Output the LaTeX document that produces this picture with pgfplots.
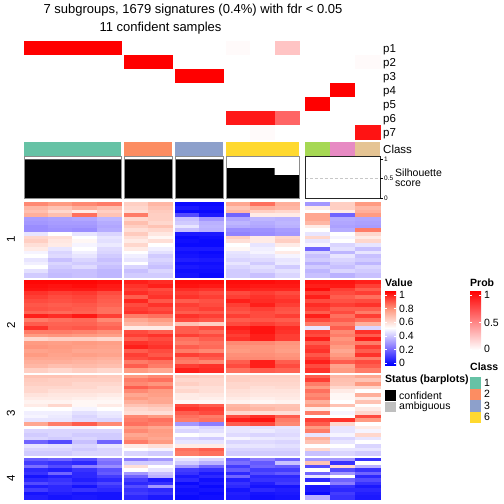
\documentclass[border=0pt]{standalone}
\usepackage{pgfplots}
\pgfplotsset{compat=1.18}
\usepackage{pgfplotstable}
\usepackage{fontspec}
\setmainfont{Liberation Sans}
\definecolor{cA}{RGB}{102,194,165}
\definecolor{cB}{RGB}{252,141,98}
\definecolor{cC}{RGB}{141,160,203}
\definecolor{cD}{RGB}{255,217,47}
\definecolor{cE}{RGB}{166,216,84}
\definecolor{cF}{RGB}{231,138,195}
\definecolor{cG}{RGB}{229,196,148}
\definecolor{vblue}{RGB}{0,0,255}
\definecolor{vpur}{RGB}{140,125,255}
\definecolor{vsal}{RGB}{255,155,130}
\definecolor{vred}{RGB}{255,0,0}
\pgfplotsset{
  colormap={probmap}{rgb255(0cm)=(255,255,255); rgb255(1cm)=(255,0,0)},
  colormap={valmap}{rgb255(0cm)=(0,0,255); rgb255(1cm)=(140,125,255); rgb255(2cm)=(255,255,255); rgb255(3cm)=(255,155,130); rgb255(4cm)=(255,0,0)},
}
\pgfdeclareverticalshading{valshade}{100bp}{color(0bp)=(vblue); color(25bp)=(vblue); color(37.5bp)=(vpur); color(50bp)=(white); color(62.5bp)=(vsal); color(75bp)=(vred); color(100bp)=(vred)}
\pgfdeclareverticalshading{probshade}{100bp}{color(0bp)=(white); color(25bp)=(white); color(75bp)=(vred); color(100bp)=(vred)}

% membership probabilities p1..p7 per sample
\pgfplotstableread{
a b c d e f g h i j k l m n
1 1 1 1 0 0 0 0 0.02 0 0.23 0 0 0
0 0 0 0 1 1 0 0 0 0 0 0 0 0.02
0 0 0 0 0 0 1 1 0 0 0 0 0 0
0 0 0 0 0 0 0 0 0 0 0 0 1 0
0 0 0 0 0 0 0 0 0 0 0 1 0 0
0 0 0 0 0 0 0 0 0.9 0.9 0.6 0 0 0
0 0 0 0 0 0 0 0 0 0.02 0 0 0 0.92
}\tP

% row group 1
\pgfplotstableread{
a b c d e f g h i j k l m n
0.78 0.75 0.78 0.80 0.62 0.68 0.02 0.02 0.72 0.82 0.70 0.30 0.62 0.75
0.68 0.65 0.70 0.66 0.60 0.65 0.05 0.03 0.65 0.70 0.68 0.55 0.62 0.68
0.66 0.60 0.55 0.62 0.58 0.63 0.02 0.02 0.68 0.62 0.60 0.50 0.55 0.70
0.70 0.66 0.82 0.65 0.80 0.62 0.15 0.05 0.20 0.55 0.55 0.72 0.20 0.75
0.31 0.32 0.33 0.36 0.60 0.62 0.38 0.30 0.33 0.36 0.35 0.72 0.34 0.33
0.30 0.31 0.31 0.34 0.66 0.60 0.40 0.35 0.36 0.34 0.36 0.68 0.33 0.32
0.28 0.30 0.30 0.33 0.62 0.65 0.45 0.36 0.34 0.33 0.35 0.55 0.32 0.31
0.28 0.29 0.28 0.34 0.58 0.60 0.38 0.35 0.28 0.29 0.31 0.50 0.34 0.80
0.45 0.50 0.45 0.42 0.63 0.56 0.05 0.05 0.26 0.28 0.30 0.45 0.50 0.60
0.60 0.58 0.50 0.45 0.58 0.52 0.02 0.03 0.62 0.55 0.60 0.60 0.48 0.55
0.62 0.56 0.52 0.44 0.55 0.58 0.03 0.02 0.58 0.55 0.62 0.45 0.50 0.60
0.58 0.55 0.48 0.46 0.60 0.50 0.02 0.02 0.50 0.45 0.55 0.48 0.42 0.45
0.55 0.45 0.50 0.43 0.55 0.47 0.05 0.05 0.52 0.47 0.50 0.20 0.44 0.38
0.48 0.42 0.47 0.42 0.50 0.44 0.03 0.02 0.45 0.48 0.55 0.42 0.36 0.45
0.50 0.43 0.45 0.40 0.47 0.40 0.04 0.03 0.44 0.45 0.48 0.38 0.45 0.38
0.45 0.38 0.42 0.38 0.45 0.42 0.06 0.05 0.42 0.43 0.45 0.40 0.42 0.40
0.47 0.42 0.40 0.40 0.50 0.40 0.03 0.03 0.45 0.40 0.46 0.35 0.40 0.36
0.50 0.40 0.43 0.38 0.42 0.38 0.05 0.04 0.42 0.44 0.40 0.40 0.38 0.42
0.44 0.38 0.38 0.36 0.38 0.42 0.03 0.03 0.40 0.42 0.44 0.36 0.42 0.40
0.40 0.37 0.38 0.36 0.40 0.40 0.04 0.02 0.40 0.38 0.42 0.38 0.35 0.38
}\tA

% row group 2
\pgfplotstableread{
a b c d e f g h i j k l m n
0.99 0.99 0.99 0.98 0.95 0.93 0.98 0.98 0.98 0.98 0.97 0.97 0.97 0.95
0.98 0.97 0.98 0.96 0.92 0.95 0.97 0.96 0.97 0.96 0.96 0.95 0.96 0.90
0.97 0.96 0.96 0.95 0.90 0.88 0.93 0.92 0.95 0.94 0.94 0.98 0.90 0.85
0.92 0.90 0.91 0.88 0.93 0.90 0.90 0.88 0.88 0.90 0.88 0.90 0.88 0.90
0.90 0.88 0.89 0.86 0.85 0.92 0.92 0.90 0.90 0.92 0.90 0.95 0.85 0.82
0.88 0.87 0.88 0.85 0.94 0.86 0.85 0.87 0.95 0.93 0.92 0.88 0.87 0.88
0.86 0.85 0.86 0.84 0.88 0.92 0.90 0.88 0.90 0.95 0.90 0.93 0.90 0.92
0.87 0.86 0.85 0.82 0.90 0.88 0.88 0.90 0.88 0.90 0.87 0.90 0.85 0.85
0.84 0.83 0.84 0.82 0.92 0.90 0.85 0.86 0.86 0.88 0.86 0.85 0.88 0.80
0.95 0.93 0.96 0.90 0.80 0.82 0.92 0.90 0.90 0.88 0.90 0.95 0.82 0.90
0.80 0.82 0.83 0.78 0.72 0.75 0.88 0.86 0.85 0.86 0.85 0.88 0.85 0.82
0.85 0.84 0.84 0.82 0.68 0.70 0.65 0.62 0.88 0.90 0.88 0.80 0.80 0.70
0.92 0.85 0.86 0.84 0.55 0.55 0.85 0.88 0.95 0.97 0.93 0.45 0.85 0.42
0.80 0.80 0.79 0.77 0.88 0.85 0.85 0.83 0.93 0.97 0.92 0.90 0.78 0.92
0.75 0.76 0.75 0.74 0.90 0.92 0.90 0.88 0.90 0.95 0.90 0.88 0.80 0.85
0.60 0.62 0.62 0.60 0.85 0.88 0.82 0.85 0.92 0.95 0.90 0.95 0.76 0.95
0.75 0.74 0.75 0.74 0.92 0.90 0.80 0.82 0.78 0.78 0.76 0.85 0.78 0.80
0.76 0.75 0.74 0.73 0.95 0.92 0.85 0.83 0.76 0.76 0.75 0.90 0.75 0.90
0.73 0.74 0.72 0.72 0.85 0.88 0.80 0.78 0.75 0.76 0.74 0.92 0.72 0.85
0.75 0.73 0.74 0.73 0.90 0.86 0.90 0.88 0.77 0.77 0.76 0.86 0.75 0.92
0.72 0.72 0.71 0.70 0.88 0.90 0.82 0.85 0.78 0.78 0.77 0.90 0.78 0.80
0.70 0.70 0.69 0.68 0.80 0.82 0.80 0.78 0.85 0.95 0.85 0.95 0.85 0.88
0.68 0.66 0.67 0.66 0.85 0.80 0.90 0.92 0.88 0.95 0.88 0.88 0.73 0.85
0.62 0.60 0.62 0.60 0.75 0.72 0.95 0.93 0.82 0.85 0.84 0.92 0.75 0.80
}\tB

% row group 3
\pgfplotstableread{
a b c d e f g h i j k l m n
0.65 0.65 0.64 0.63 0.75 0.78 0.63 0.62 0.62 0.62 0.62 0.85 0.68 0.72
0.63 0.62 0.62 0.62 0.80 0.82 0.60 0.60 0.62 0.61 0.61 0.90 0.66 0.65
0.62 0.62 0.60 0.60 0.78 0.76 0.62 0.60 0.60 0.60 0.60 0.80 0.65 0.75
0.60 0.60 0.60 0.58 0.85 0.82 0.58 0.58 0.60 0.58 0.59 0.75 0.60 0.60
0.60 0.58 0.58 0.58 0.78 0.75 0.60 0.58 0.58 0.57 0.57 0.82 0.55 0.50
0.57 0.56 0.56 0.55 0.72 0.74 0.55 0.56 0.57 0.56 0.56 0.78 0.52 0.70
0.55 0.55 0.54 0.53 0.75 0.72 0.55 0.54 0.55 0.54 0.55 0.80 0.52 0.55
0.53 0.53 0.52 0.52 0.70 0.72 0.52 0.52 0.53 0.52 0.53 0.70 0.50 0.65
0.55 0.60 0.52 0.55 0.65 0.66 0.88 0.85 0.68 0.65 0.65 0.75 0.65 0.50
0.50 0.50 0.48 0.50 0.60 0.62 0.92 0.90 0.70 0.68 0.66 0.55 0.50 0.55
0.47 0.47 0.44 0.46 0.58 0.58 0.85 0.88 0.60 0.58 0.58 0.80 0.48 0.60
0.48 0.46 0.42 0.45 0.78 0.75 0.82 0.80 0.88 0.92 0.85 0.50 0.50 0.88
0.45 0.45 0.43 0.42 0.80 0.82 0.80 0.82 0.95 0.97 0.80 0.90 0.92 0.75
0.72 0.80 0.85 0.78 0.82 0.80 0.30 0.25 0.85 0.88 0.78 0.85 0.60 0.50
0.50 0.48 0.48 0.50 0.75 0.72 0.45 0.42 0.45 0.44 0.45 0.75 0.45 0.55
0.42 0.42 0.42 0.42 0.78 0.75 0.42 0.44 0.45 0.46 0.44 0.80 0.45 0.48
0.40 0.42 0.40 0.40 0.72 0.74 0.50 0.48 0.43 0.42 0.43 0.45 0.48 0.60
0.42 0.40 0.42 0.40 0.75 0.72 0.42 0.40 0.48 0.46 0.45 0.70 0.42 0.45
0.20 0.15 0.38 0.20 0.80 0.75 0.45 0.45 0.42 0.43 0.42 0.65 0.45 0.50
0.45 0.44 0.42 0.45 0.55 0.58 0.55 0.55 0.45 0.45 0.44 0.50 0.50 0.42
0.42 0.42 0.40 0.42 0.50 0.48 0.82 0.85 0.42 0.42 0.42 0.60 0.45 0.45
0.40 0.40 0.42 0.42 0.42 0.40 0.80 0.82 0.40 0.40 0.40 0.38 0.42 0.40
}\tC

% row group 4
\pgfplotstableread{
a b c d e f g h i j k l m n
0.18 0.20 0.15 0.25 0.25 0.30 0.45 0.42 0.18 0.25 0.20 0.30 0.30 0.10
0.12 0.10 0.08 0.22 0.40 0.40 0.40 0.35 0.22 0.18 0.38 0.65 0.10 0.50
0.22 0.15 0.25 0.28 0.58 0.50 0.30 0.20 0.12 0.20 0.18 0.15 0.60 0.35
0.08 0.06 0.10 0.16 0.50 0.45 0.12 0.10 0.18 0.12 0.12 0.50 0.15 0.10
0.10 0.20 0.08 0.18 0.30 0.38 0.10 0.05 0.08 0.15 0.18 0.20 0.30 0.20
0.04 0.06 0.08 0.12 0.20 0.35 0.05 0.08 0.20 0.08 0.08 0.45 0.50 0.08
0.08 0.10 0.06 0.08 0.12 0.05 0.08 0.03 0.06 0.10 0.10 0.08 0.20 0.15
0.15 0.12 0.10 0.14 0.08 0.10 0.02 0.05 0.10 0.06 0.12 0.50 0.25 0.10
0.06 0.08 0.04 0.10 0.15 0.30 0.05 0.02 0.08 0.04 0.04 0.05 0.10 0.05
0.12 0.08 0.10 0.08 0.10 0.08 0.03 0.04 0.04 0.08 0.06 0.05 0.08 0.08
0.04 0.06 0.04 0.04 0.12 0.10 0.04 0.02 0.06 0.04 0.05 0.02 0.12 0.06
0.06 0.04 0.05 0.04 0.08 0.05 0.02 0.03 0.05 0.03 0.04 0.35 0.10 0.05
}\tD

\newcommand{\hmcol}[7]{%
\addplot[scatter, only marks, mark=square*, mark size=0.5bp, point meta=explicit,
 scatter/use mapped color={draw=mapped color, fill=mapped color},
 mark options={xscale=#4, yscale=#6, line width=0.15pt}, forget plot, #7]
 table[x expr=#3, y expr={#5+#6*(\coordindex+0.5)}, meta=#2] {#1};}
\newcommand{\hmblock}[4]{%
\hmcol{#1}{a}{36.125}{24.25}{#2}{#3}{#4}
\hmcol{#1}{b}{60.375}{24.25}{#2}{#3}{#4}
\hmcol{#1}{c}{84.625}{24.25}{#2}{#3}{#4}
\hmcol{#1}{d}{108.875}{24.25}{#2}{#3}{#4}
\hmcol{#1}{e}{136}{24}{#2}{#3}{#4}
\hmcol{#1}{f}{160}{24}{#2}{#3}{#4}
\hmcol{#1}{g}{187}{24}{#2}{#3}{#4}
\hmcol{#1}{h}{211}{24}{#2}{#3}{#4}
\hmcol{#1}{i}{238.17}{24.33}{#2}{#3}{#4}
\hmcol{#1}{j}{262.5}{24.33}{#2}{#3}{#4}
\hmcol{#1}{k}{286.83}{24.33}{#2}{#3}{#4}
\hmcol{#1}{l}{317.5}{25}{#2}{#3}{#4}
\hmcol{#1}{m}{342.5}{25}{#2}{#3}{#4}
\hmcol{#1}{n}{367.5}{25}{#2}{#3}{#4}}

\newcommand{\fs}[1]{\fontsize{#1bp}{#1bp}\selectfont}

\begin{document}
\begin{tikzpicture}
\path[use as bounding box] (0,0) rectangle (504bp,-504bp);
\begin{axis}[at={(0,0)}, anchor=north west, width=504bp, height=504bp, scale only axis,
  hide axis, xmin=0, xmax=504, ymin=0, ymax=504, y dir=reverse, clip=false,
  colormap name=valmap, point meta min=0, point meta max=1]
\hmblock{\tP}{41.3}{14}{colormap name=probmap}
\hmblock{\tA}{202.3}{3.72}{}
\hmblock{\tB}{280}{3.833}{}
\hmblock{\tC}{374.7}{3.65}{}
\hmblock{\tD}{458}{3.392}{}
% class bar
\addplot[fill=cA, draw=none, forget plot] coordinates {(24,141.5) (121,141.5) (121,156) (24,156)};
\addplot[fill=cB, draw=none, forget plot] coordinates {(124,141.5) (172,141.5) (172,156) (124,156)};
\addplot[fill=cC, draw=none, forget plot] coordinates {(175,141.5) (223,141.5) (223,156) (175,156)};
\addplot[fill=cD, draw=none, forget plot] coordinates {(226,141.5) (299,141.5) (299,156) (226,156)};
\addplot[fill=cE, draw=none, forget plot] coordinates {(305,141.5) (330,141.5) (330,156) (305,156)};
\addplot[fill=cF, draw=none, forget plot] coordinates {(330,141.5) (355,141.5) (355,156) (330,156)};
\addplot[fill=cG, draw=none, forget plot] coordinates {(355,141.5) (380,141.5) (380,156) (355,156)};
\end{axis}

% silhouette annotation
\begin{axis}[at={(0,-198.3bp)}, anchor=south west, width=504bp, height=39.3bp, scale only axis,
  hide axis, xmin=0, xmax=504, ymin=0, ymax=1, clip=false]
\addplot[densely dashed, black!22, forget plot] coordinates {(24,0.5) (121,0.5)};
\addplot[densely dashed, black!22, forget plot] coordinates {(124,0.5) (172,0.5)};
\addplot[densely dashed, black!22, forget plot] coordinates {(175,0.5) (223,0.5)};
\addplot[densely dashed, black!22, forget plot] coordinates {(226,0.5) (299,0.5)};
\addplot[densely dashed, black!22, forget plot] coordinates {(305,0.5) (380,0.5)};
\addplot[ybar interval, fill=black, draw=none, forget plot] coordinates {(24,0.99) (48.25,0.99) (72.5,0.99) (96.75,0.99) (121,0.99)};
\addplot[ybar interval, fill=black, draw=none, forget plot] coordinates {(124,0.99) (148,0.99) (172,0.99)};
\addplot[ybar interval, fill=black, draw=none, forget plot] coordinates {(175,0.99) (199,0.99) (223,0.99)};
\addplot[ybar interval, fill=black, draw=none, forget plot] coordinates {(226,0.77) (250.33,0.77) (274.67,0.59) (299,0.59)};
\addplot[ybar interval, fill=black, draw=none, forget plot] coordinates {(305,0) (330,0) (355,0) (380,0)};
\addplot[draw=black!45, line width=0.8pt, forget plot] coordinates {(24,0) (121,0) (121,1.06) (24,1.06) (24,0)};
\addplot[draw=black!45, line width=0.8pt, forget plot] coordinates {(124,0) (172,0) (172,1.06) (124,1.06) (124,0)};
\addplot[draw=black!45, line width=0.8pt, forget plot] coordinates {(175,0) (223,0) (223,1.06) (175,1.06) (175,0)};
\addplot[draw=black!45, line width=0.8pt, forget plot] coordinates {(226,0) (299,0) (299,1.06) (226,1.06) (226,0)};
\addplot[draw=black!85, line width=0.8pt, forget plot] coordinates {(305,0) (380,0) (380,1.06) (305,1.06) (305,0)};
\end{axis}

% silhouette axis ticks and labels
\draw[line width=0.5pt] (380bp,-159bp) -- (383bp,-159bp);
\draw[line width=0.5pt] (380bp,-178.65bp) -- (383bp,-178.65bp);
\draw[line width=0.5pt] (380bp,-198.3bp) -- (383bp,-198.3bp);
\node[anchor=west, inner sep=0, font=\fs{6.5}] at (384bp,-159bp) {1};
\node[anchor=west, inner sep=0, font=\fs{6.5}] at (384bp,-178.65bp) {0.5};
\node[anchor=west, inner sep=0, font=\fs{6.5}] at (384bp,-198.3bp) {0};
\node[anchor=west, inner sep=0, font=\fs{10.5}] at (395bp,-172.5bp) {Silhouette};
\node[anchor=west, inner sep=0, font=\fs{10.5}] at (395bp,-184bp) {score};

% titles
\node[font=\fs{13}] at (193bp,-10.5bp) {7 subgroups, 1679 signatures (0.4\%) with fdr < 0.05};
\node[font=\fs{13}] at (160.5bp,-28.5bp) {11 confident samples};

% annotation row names
\foreach \lab/\yy in {p1/49.5, p2/63.5, p3/77.5, p4/91.8, p5/105.8, p6/119.8, p7/133.8, Class/149}
  \node[anchor=west, inner sep=0, font=\fs{11.5}] at (383bp,-\yy bp) {\lab};

% row group labels
\foreach \lab/\yy in {1/239.5, 2/325.5, 3/413, 4/478}
  \node[rotate=90, inner sep=0, font=\fs{11.5}] at (11bp,-\yy bp) {\lab};

% Value legend
\node[anchor=west, inner sep=0, font=\bfseries\fs{10.5}] at (385bp,-283bp) {Value};
\shade[shading=valshade] (385bp,-291bp) rectangle (396bp,-365bp);
\foreach \lab/\yy in {1/295, 0.8/308.6, 0.6/322.2, 0.4/335.8, 0.2/349.4, 0/363}{
  \draw[white, line width=0.6bp] (385bp,-\yy bp) -- (387bp,-\yy bp) (394bp,-\yy bp) -- (396bp,-\yy bp);
  \node[anchor=west, inner sep=0, font=\fs{10.5}] at (399bp,-\yy bp) {\lab};}

% Prob legend
\node[anchor=west, inner sep=0, font=\bfseries\fs{10.5}] at (470bp,-283bp) {Prob};
\shade[shading=probshade] (470bp,-291bp) rectangle (481bp,-350bp);
\foreach \lab/\yy in {1/295, 0.5/322.5, 0/349}{
  \draw[white, line width=0.6bp] (470bp,-\yy bp) -- (472bp,-\yy bp) (479bp,-\yy bp) -- (481bp,-\yy bp);
  \node[anchor=west, inner sep=0, font=\fs{10.5}] at (484bp,-\yy bp) {\lab};}

% Class legend
\node[anchor=west, inner sep=0, font=\bfseries\fs{10.5}] at (470bp,-367bp) {Class};
\fill[cA] (470bp,-377bp) rectangle (481bp,-388.5bp);
\fill[cB] (470bp,-388.5bp) rectangle (481bp,-400bp);
\fill[cC] (470bp,-400bp) rectangle (481bp,-411.5bp);
\fill[cD] (470bp,-411.5bp) rectangle (481bp,-423bp);
\foreach \lab/\yy in {1/382.7, 2/394.2, 3/405.7, 6/417.2}
  \node[anchor=west, inner sep=0, font=\fs{10.5}] at (484bp,-\yy bp) {\lab};

% Status legend
\node[anchor=west, inner sep=0, font=\bfseries\fs{10.5}] at (385bp,-380bp) {Status (barplots)};
\fill[black] (385bp,-390bp) rectangle (396bp,-400.5bp);
\fill[black!25] (385bp,-401.5bp) rectangle (396bp,-412bp);
\node[anchor=west, inner sep=0, font=\fs{10.5}] at (399bp,-395.3bp) {confident};
\node[anchor=west, inner sep=0, font=\fs{10.5}] at (399bp,-406.7bp) {ambiguous};
\end{tikzpicture}
\end{document}
